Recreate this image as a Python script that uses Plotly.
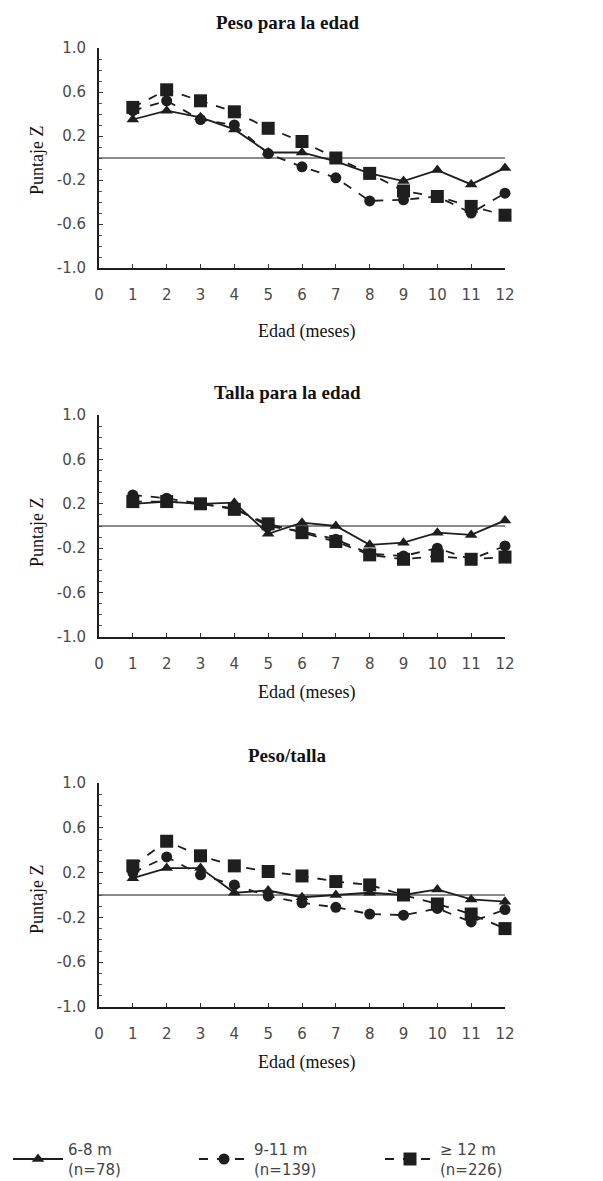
import plotly.graph_objects as go

# ---------------- data ----------------
months = list(range(1, 13))
x_tick_vals = list(range(0, 13))
x_tick_text = [str(v) for v in x_tick_vals]
y_tick_vals = [1.0, 0.6, 0.2, -0.2, -0.6, -1.0]
y_tick_text = ["1.0", "0.6", "0.2", "-0.2", "-0.6", "-1.0"]
ref_value = 0

panel_titles = ["Peso para la edad", "Talla para la edad", "Peso/talla"]
x_title = "Edad (meses)"
y_title = "Puntaje Z"
series_names = ["6-8 m<br>(n=78)", "9-11 m<br>(n=139)", "≥ 12 m<br>(n=226)"]

# Peso para la edad
pe_6_8 = [0.35, 0.43, 0.37, 0.26, 0.05, 0.05, -0.03, -0.14, -0.21, -0.11, -0.24, -0.09]
pe_9_11 = [0.43, 0.52, 0.35, 0.30, 0.04, -0.08, -0.18, -0.39, -0.38, -0.35, -0.50, -0.32]
pe_12 = [0.46, 0.62, 0.52, 0.42, 0.27, 0.15, 0.00, -0.14, -0.30, -0.35, -0.44, -0.52]

# Talla para la edad
te_6_8 = [0.20, 0.22, 0.20, 0.21, -0.07, 0.03, 0.00, -0.17, -0.15, -0.06, -0.08, 0.05]
te_9_11 = [0.28, 0.25, 0.20, 0.16, 0.00, -0.05, -0.12, -0.25, -0.27, -0.20, -0.30, -0.18]
te_12 = [0.22, 0.22, 0.20, 0.15, 0.02, -0.06, -0.14, -0.26, -0.30, -0.27, -0.30, -0.28]

# Peso/talla
pt_6_8 = [0.15, 0.24, 0.24, 0.02, 0.04, -0.02, 0.00, 0.02, 0.00, 0.05, -0.04, -0.06]
pt_9_11 = [0.20, 0.34, 0.18, 0.09, -0.01, -0.07, -0.11, -0.17, -0.18, -0.12, -0.24, -0.13]
pt_12 = [0.26, 0.48, 0.35, 0.26, 0.21, 0.17, 0.12, 0.09, 0.00, -0.08, -0.17, -0.30]

panels = [
    (pe_6_8, pe_9_11, pe_12),
    (te_6_8, te_9_11, te_12),
    (pt_6_8, pt_9_11, pt_12),
]

# ---------------- layout geometry ----------------
# the page body has an 8px default margin, so the figure is shifted by it
OFF = 8
W, H = 603 - OFF, 1181 - OFF


def px_x(p):
    return (p - OFF) / W


def py(p):
    return 1 - (p - OFF) / H


x_dom = [px_x(99), px_x(505)]
plot_px = [(48, 268), (415, 637), (783, 1007)]
title_px = [23, 392, 755]
xtitle_px = [331, 692, 1062]
ytitle_px = [160, 532, 899]

styles = [
    dict(symbol="triangle-up", size=11, dash="solid"),
    dict(symbol="circle", size=11, dash="dash"),
    dict(symbol="square", size=13, dash="dash"),
]
ink = "#1e1e1e"

fig = go.Figure()
layout = dict(
    width=W, height=H,
    margin=dict(l=0, r=0, t=0, b=0, autoexpand=False),
    paper_bgcolor="white", plot_bgcolor="white",
    showlegend=True,
    legend=dict(
        orientation="h", x=px_x(8), y=py(1185), xanchor="left", yanchor="bottom",
        font=dict(family="DejaVu Sans, Arial", size=15, color="#444"),
        entrywidth=121, itemwidth=50, valign="middle",
        bgcolor="rgba(0,0,0,0)",
    ),
    annotations=[],
    shapes=[],
)

tick_font = dict(family="DejaVu Sans, Arial", size=15, color="#4a4a4a")
serif = "Liberation Serif, Times New Roman, serif"

for i, (series, (top, bot)) in enumerate(zip(panels, plot_px)):
    xa = "x" if i == 0 else f"x{i+1}"
    ya = "y" if i == 0 else f"y{i+1}"
    xkey = "xaxis" if i == 0 else f"xaxis{i+1}"
    ykey = "yaxis" if i == 0 else f"yaxis{i+1}"
    for vals, name, st in zip(series, series_names, styles):
        fig.add_trace(go.Scatter(
            x=months, y=vals, name=name, mode="lines+markers",
            xaxis=xa, yaxis=ya, cliponaxis=False,
            showlegend=(i == 0), legendgroup=name,
            line=dict(color=ink, width=1.8, dash=st["dash"]),
            marker=dict(symbol=st["symbol"], size=st["size"], color=ink),
        ))
    layout[xkey] = dict(
        domain=x_dom, anchor=ya, range=[0, 12], automargin=False,
        tickmode="array", tickvals=x_tick_vals, ticktext=x_tick_text,
        ticks="inside", ticklen=4, tickwidth=1, tickcolor="#333",
        showline=True, linecolor=ink, linewidth=2,
        showgrid=False, zeroline=False, tickfont=tick_font,
        ticklabelstandoff=12,
    )
    layout[ykey] = dict(
        domain=[py(bot), py(top)], anchor=xa, range=[-1.0, 1.0], automargin=False,
        tickmode="array", tickvals=y_tick_vals, ticktext=y_tick_text,
        ticks="inside", ticklen=4, tickwidth=1, tickcolor="#333",
        minor=dict(dtick=0.1, tick0=0, ticks="inside", ticklen=3, tickcolor="#555"),
        showline=True, linecolor=ink, linewidth=2,
        showgrid=False, zeroline=False, tickfont=tick_font,
        ticklabelstandoff=8,
    )
    layout["annotations"] += [
        dict(text=f"<b>{panel_titles[i]}</b>", xref="paper", yref="paper",
             x=px_x(287), y=py(title_px[i]), xanchor="center", yanchor="middle",
             showarrow=False, font=dict(family=serif, size=19, color="#111")),
        dict(text=x_title, xref="paper", yref="paper",
             x=px_x(306), y=py(xtitle_px[i]), xanchor="center", yanchor="middle",
             showarrow=False, font=dict(family=serif, size=18, color="#111")),
        dict(text=y_title, xref="paper", yref="paper", textangle=-90,
             x=px_x(37), y=py(ytitle_px[i]), xanchor="center", yanchor="middle",
             showarrow=False, font=dict(family=serif, size=18, color="#111")),
    ]
    layout["shapes"].append(dict(
        type="line", xref=f"{xa} domain", yref=ya, x0=0, x1=1,
        y0=ref_value, y1=ref_value, layer="below",
        line=dict(color="#8a8a8a", width=2),
    ))

fig.update_layout(**layout)
fig.write_html("out.html")
